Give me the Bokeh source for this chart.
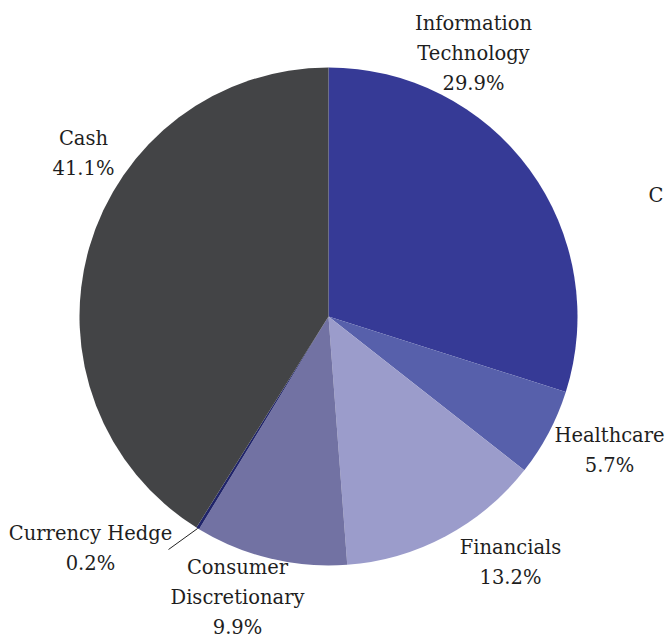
import math
from bokeh.plotting import figure
from bokeh.models import Range1d, ColumnDataSource
from bokeh.core.properties import value
from bokeh.embed import file_html
from bokeh.resources import INLINE

sectors = ["Information\nTechnology", "Healthcare", "Financials",
           "Consumer\nDiscretionary", "Currency Hedge", "Cash"]
shares = [29.9, 5.7, 13.2, 9.9, 0.2, 41.1]
colors = ["#363a96", "#5760ab", "#9b9ccb", "#7272a3", "#20246a", "#434446"]

# label anchors (page pixels) - layout only
label_px = [(473, 53), (609, 450), (510, 562), (237, 597), (90, 548), (83, 153)]
leader_end_px = (168, 549)
cut_label = "C"
cut_label_px = (648, 195)

W, H = 665, 641
def dx(px):
    return px
def dy(py):
    return H - py

cx, cy, r = dx(328), dy(316), 249

total = sum(shares)
starts, ends = [], []
cum = 0.0
for s in shares:
    starts.append(math.pi / 2 - 2 * math.pi * cum / total)
    cum += s
    ends.append(math.pi / 2 - 2 * math.pi * cum / total)

labels = [f"{n}\n{v:.1f}%" for n, v in zip(sectors, shares)]

src = ColumnDataSource(dict(start=starts, end=ends, color=colors))

p = figure(width=W, height=H, output_backend="svg", toolbar_location=None,
           x_range=Range1d(0, W), y_range=Range1d(0, H), min_border=0)
p.axis.visible = False
p.grid.visible = False
p.outline_line_color = None
p.background_fill_color = "white"

p.wedge(x=cx, y=cy, radius=r, start_angle="start", end_angle="end",
        direction="clock", fill_color="color", line_color=None, source=src)

# leader line for the thin Currency Hedge slice
i = sectors.index("Currency Hedge")
mid = (starts[i] + ends[i]) / 2
p.segment(x0=[cx + r * math.cos(mid)], y0=[cy + r * math.sin(mid)],
          x1=[dx(leader_end_px[0])], y1=[dy(leader_end_px[1])],
          line_color="#222222", line_width=1)

font = value("DejaVu Serif")
p.text(x=[dx(a) for a, b in label_px], y=[dy(b) for a, b in label_px], text=labels,
       text_font=font, text_font_size="19.5px",
       text_color="#1e1e1e", text_align="center", text_baseline="middle",
       text_line_height=1.3)

p.text(x=[dx(cut_label_px[0])], y=[dy(cut_label_px[1])], text=[cut_label],
       text_font=font, text_font_size="19.5px",
       text_color="#1e1e1e", text_align="left", text_baseline="middle")

open("out.html", "w").write(file_html(p, INLINE))
